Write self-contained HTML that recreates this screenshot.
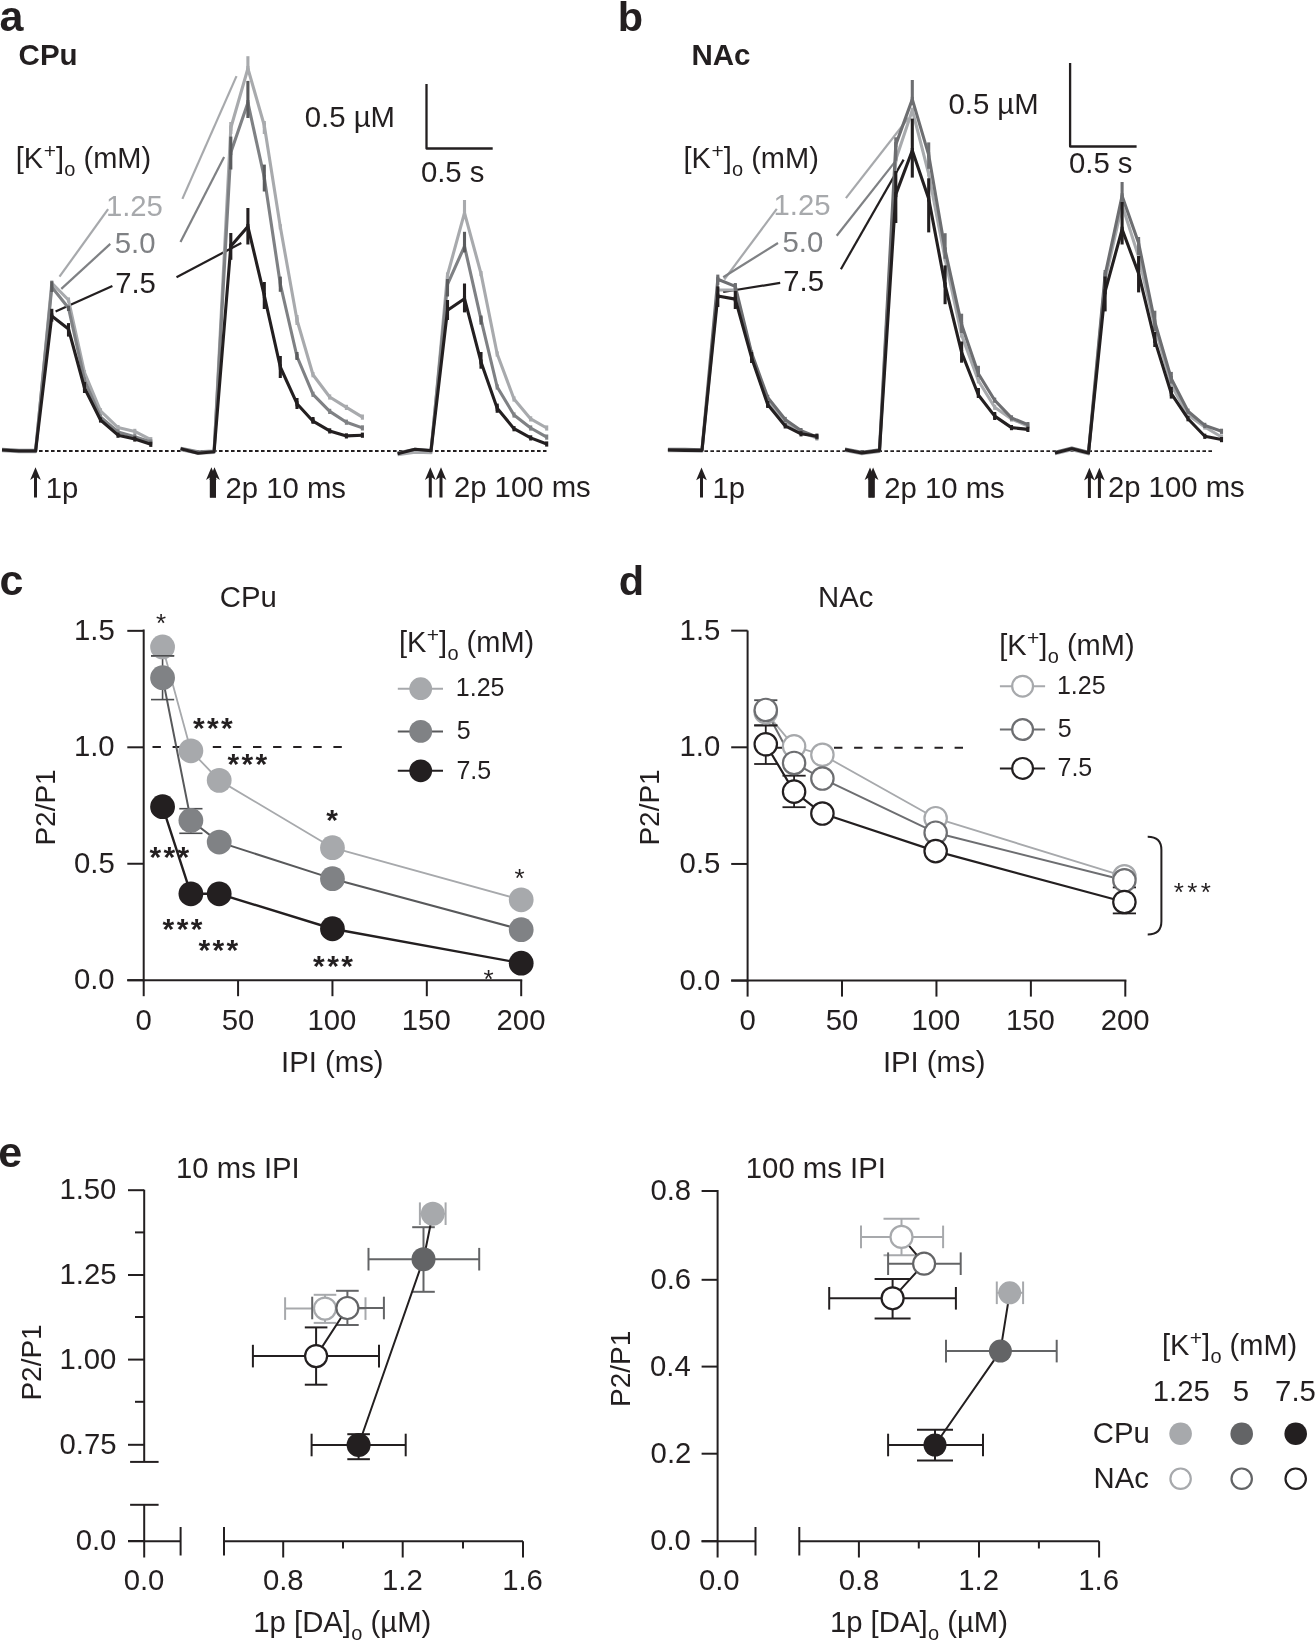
<!DOCTYPE html>
<html><head><meta charset="utf-8"><style>
html,body{margin:0;padding:0;background:#fff;}
body{width:1315px;height:1641px;overflow:hidden;}
svg{display:block;will-change:transform;}
text{font-family:"Liberation Sans",sans-serif;}
</style></head><body>
<svg width="1315" height="1641" viewBox="0 0 1315 1641" stroke-linecap="butt">
<rect width="1315" height="1641" fill="#fff"/>
<text x="-0.4" y="31" font-size="43" font-weight="bold" fill="#231f20" >a</text>
<text x="18.6" y="64.6" font-size="29.5" font-weight="bold" fill="#231f20" >CPu</text>
<text x="15.8" y="167.8" font-size="29" fill="#231f20">[K<tspan font-size="21" dx="0.5" dy="-9.5">+</tspan><tspan dy="9.5">]</tspan><tspan font-size="20" dx="0.3" dy="7.8">o</tspan><tspan dy="-7.8"> (mM)</tspan></text>
<text x="105.9" y="215.5" font-size="29.3" fill="#a7a9ac" >1.25</text>
<text x="114.8" y="253" font-size="29.3" fill="#7f8184" >5.0</text>
<text x="115.2" y="292.5" font-size="29.3" fill="#231f20" >7.5</text>
<line x1="59.5" y1="276.7" x2="108.1" y2="209.2" stroke="#a7a9ac" stroke-width="2.2" />
<line x1="61.3" y1="288.9" x2="110.3" y2="243.9" stroke="#7f8184" stroke-width="2.2" />
<line x1="55.6" y1="311.5" x2="112.4" y2="285.9" stroke="#231f20" stroke-width="2.2" />
<line x1="182.4" y1="198.9" x2="236.5" y2="76.1" stroke="#a7a9ac" stroke-width="2.2" />
<line x1="180.5" y1="242" x2="224.1" y2="156.9" stroke="#7f8184" stroke-width="2.2" />
<line x1="176.5" y1="277.3" x2="241.3" y2="243" stroke="#231f20" stroke-width="2.2" />
<text x="304.8" y="126.5" font-size="29.3" fill="#231f20" >0.5 µM</text>
<text x="420.9" y="182.4" font-size="29.3" fill="#231f20" >0.5 s</text>
<polyline points="426.5,84 426.5,148.5 492.7,148.5" fill="none" stroke="#231f20" stroke-width="2.3" stroke-linejoin="round" />
<line x1="39" y1="451" x2="546.5" y2="451" stroke="#231f20" stroke-width="1.8" stroke-dasharray="3.6 2.4"/>
<polyline points="2,450.8 19,451.8 35.6,451.8 51.8,283 68.5,300 84.5,372.7 100.5,410.8 118,427.6 134.8,431.4 150.8,439.7" fill="none" stroke="#a8aaad" stroke-width="3.1" stroke-linejoin="round" />
<line x1="51.8" y1="280.4" x2="51.8" y2="285.6" stroke="#a8aaad" stroke-width="3.1" />
<line x1="68.5" y1="297.4" x2="68.5" y2="302.6" stroke="#a8aaad" stroke-width="3.1" />
<line x1="84.5" y1="370.1" x2="84.5" y2="375.3" stroke="#a8aaad" stroke-width="3.1" />
<line x1="100.5" y1="408.2" x2="100.5" y2="413.4" stroke="#a8aaad" stroke-width="3.1" />
<line x1="118" y1="425" x2="118" y2="430.2" stroke="#a8aaad" stroke-width="3.1" />
<line x1="134.8" y1="428.8" x2="134.8" y2="434" stroke="#a8aaad" stroke-width="3.1" />
<line x1="150.8" y1="437.1" x2="150.8" y2="442.3" stroke="#a8aaad" stroke-width="3.1" />
<line x1="68.5" y1="298.7" x2="68.5" y2="302" stroke="#a8aaad" stroke-width="3.1" />
<polyline points="2,449.3 19,450.3 35.6,450.3 51.8,287 68.5,308 84.5,380 100.5,416.9 118,432 134.8,436.7 150.8,442" fill="none" stroke="#7f8184" stroke-width="3.1" stroke-linejoin="round" />
<line x1="51.8" y1="284.4" x2="51.8" y2="289.6" stroke="#7f8184" stroke-width="3.1" />
<line x1="68.5" y1="305.4" x2="68.5" y2="310.6" stroke="#7f8184" stroke-width="3.1" />
<line x1="84.5" y1="377.4" x2="84.5" y2="382.6" stroke="#7f8184" stroke-width="3.1" />
<line x1="100.5" y1="414.3" x2="100.5" y2="419.5" stroke="#7f8184" stroke-width="3.1" />
<line x1="118" y1="429.4" x2="118" y2="434.6" stroke="#7f8184" stroke-width="3.1" />
<line x1="134.8" y1="434.1" x2="134.8" y2="439.3" stroke="#7f8184" stroke-width="3.1" />
<line x1="150.8" y1="439.4" x2="150.8" y2="444.6" stroke="#7f8184" stroke-width="3.1" />
<polyline points="2,450 19,451 35.6,451 51.8,316 68.5,329 84.5,388 100.5,420 118,435.2 134.8,439 150.8,444.3" fill="none" stroke="#231f20" stroke-width="3.1" stroke-linejoin="round" />
<line x1="51.8" y1="313.4" x2="51.8" y2="318.6" stroke="#231f20" stroke-width="3.1" />
<line x1="68.5" y1="326.4" x2="68.5" y2="331.6" stroke="#231f20" stroke-width="3.1" />
<line x1="84.5" y1="385.4" x2="84.5" y2="390.6" stroke="#231f20" stroke-width="3.1" />
<line x1="100.5" y1="417.4" x2="100.5" y2="422.6" stroke="#231f20" stroke-width="3.1" />
<line x1="118" y1="432.6" x2="118" y2="437.8" stroke="#231f20" stroke-width="3.1" />
<line x1="134.8" y1="436.4" x2="134.8" y2="441.6" stroke="#231f20" stroke-width="3.1" />
<line x1="150.8" y1="441.7" x2="150.8" y2="446.9" stroke="#231f20" stroke-width="3.1" />
<line x1="51.8" y1="308.8" x2="51.8" y2="321.6" stroke="#231f20" stroke-width="3.1" />
<line x1="68.5" y1="323.1" x2="68.5" y2="336.6" stroke="#231f20" stroke-width="3.1" />
<line x1="84.5" y1="382" x2="84.5" y2="393" stroke="#231f20" stroke-width="3.1" />
<line x1="51.8" y1="281.2" x2="51.8" y2="292" stroke="#5b5c5e" stroke-width="3.1" />
<line x1="68.5" y1="306" x2="68.5" y2="311" stroke="#5b5c5e" stroke-width="3.1" />
<path d="M35.5,467.3 L40.85,480 L37,477.6 L37,497.6 L34,497.6 L34,477.6 L30.15,480 Z" fill="#231f20"/>
<text x="45.7" y="497.9" font-size="29.3" fill="#231f20" >1p</text>
<polyline points="180.6,449.8 198.1,453.3 214.1,452.5 230.8,128 247.9,68.5 264.3,125.5 280.3,226.8 297,320 313,374.7 329.7,397 346.4,407.4 362.4,417.1" fill="none" stroke="#a8aaad" stroke-width="3.1" stroke-linejoin="round" />
<line x1="230.8" y1="125.4" x2="230.8" y2="130.6" stroke="#a8aaad" stroke-width="3.1" />
<line x1="247.9" y1="65.9" x2="247.9" y2="71.1" stroke="#a8aaad" stroke-width="3.1" />
<line x1="264.3" y1="122.9" x2="264.3" y2="128.1" stroke="#a8aaad" stroke-width="3.1" />
<line x1="280.3" y1="224.2" x2="280.3" y2="229.4" stroke="#a8aaad" stroke-width="3.1" />
<line x1="297" y1="317.4" x2="297" y2="322.6" stroke="#a8aaad" stroke-width="3.1" />
<line x1="313" y1="372.1" x2="313" y2="377.3" stroke="#a8aaad" stroke-width="3.1" />
<line x1="329.7" y1="394.4" x2="329.7" y2="399.6" stroke="#a8aaad" stroke-width="3.1" />
<line x1="346.4" y1="404.8" x2="346.4" y2="410" stroke="#a8aaad" stroke-width="3.1" />
<line x1="362.4" y1="414.5" x2="362.4" y2="419.7" stroke="#a8aaad" stroke-width="3.1" />
<line x1="230.8" y1="122" x2="230.8" y2="134" stroke="#a8aaad" stroke-width="3.1" />
<line x1="247.9" y1="56.2" x2="247.9" y2="70" stroke="#a8aaad" stroke-width="3.1" />
<line x1="264.3" y1="121" x2="264.3" y2="134" stroke="#a8aaad" stroke-width="3.1" />
<line x1="297" y1="315" x2="297" y2="325" stroke="#a8aaad" stroke-width="3.1" />
<polyline points="180.6,448.3 198.1,451.8 214.1,451 230.8,152.4 247.9,102.7 264.3,177.5 280.3,284 297,356.5 313,394.3 329.7,411.4 346.4,422.2 362.4,427.9" fill="none" stroke="#7f8184" stroke-width="3.1" stroke-linejoin="round" />
<line x1="230.8" y1="149.8" x2="230.8" y2="155" stroke="#7f8184" stroke-width="3.1" />
<line x1="247.9" y1="100.1" x2="247.9" y2="105.3" stroke="#7f8184" stroke-width="3.1" />
<line x1="264.3" y1="174.9" x2="264.3" y2="180.1" stroke="#7f8184" stroke-width="3.1" />
<line x1="280.3" y1="281.4" x2="280.3" y2="286.6" stroke="#7f8184" stroke-width="3.1" />
<line x1="297" y1="353.9" x2="297" y2="359.1" stroke="#7f8184" stroke-width="3.1" />
<line x1="313" y1="391.7" x2="313" y2="396.9" stroke="#7f8184" stroke-width="3.1" />
<line x1="329.7" y1="408.8" x2="329.7" y2="414" stroke="#7f8184" stroke-width="3.1" />
<line x1="346.4" y1="419.6" x2="346.4" y2="424.8" stroke="#7f8184" stroke-width="3.1" />
<line x1="362.4" y1="425.3" x2="362.4" y2="430.5" stroke="#7f8184" stroke-width="3.1" />
<line x1="230.8" y1="136.6" x2="230.8" y2="169.5" stroke="#5b5c5e" stroke-width="3.1" />
<line x1="247.9" y1="80.9" x2="247.9" y2="118" stroke="#5b5c5e" stroke-width="3.1" />
<line x1="264.3" y1="164.6" x2="264.3" y2="191.5" stroke="#5b5c5e" stroke-width="3.1" />
<line x1="280.3" y1="276.6" x2="280.3" y2="291.8" stroke="#5b5c5e" stroke-width="3.1" />
<line x1="297" y1="352" x2="297" y2="360" stroke="#5b5c5e" stroke-width="3.1" />
<polyline points="180.6,448.7 198.1,453.2 214.1,451.7 230.8,246.3 247.9,226.5 264.3,295.6 280.3,367 297,403.7 313,421.2 329.7,430.9 346.4,435.9 362.4,435.2" fill="none" stroke="#231f20" stroke-width="3.1" stroke-linejoin="round" />
<line x1="230.8" y1="243.7" x2="230.8" y2="248.9" stroke="#231f20" stroke-width="3.1" />
<line x1="247.9" y1="223.9" x2="247.9" y2="229.1" stroke="#231f20" stroke-width="3.1" />
<line x1="264.3" y1="293" x2="264.3" y2="298.2" stroke="#231f20" stroke-width="3.1" />
<line x1="280.3" y1="364.4" x2="280.3" y2="369.6" stroke="#231f20" stroke-width="3.1" />
<line x1="297" y1="401.1" x2="297" y2="406.3" stroke="#231f20" stroke-width="3.1" />
<line x1="313" y1="418.6" x2="313" y2="423.8" stroke="#231f20" stroke-width="3.1" />
<line x1="329.7" y1="428.3" x2="329.7" y2="433.5" stroke="#231f20" stroke-width="3.1" />
<line x1="346.4" y1="433.3" x2="346.4" y2="438.5" stroke="#231f20" stroke-width="3.1" />
<line x1="362.4" y1="432.6" x2="362.4" y2="437.8" stroke="#231f20" stroke-width="3.1" />
<line x1="230.8" y1="233" x2="230.8" y2="259.8" stroke="#231f20" stroke-width="3.1" />
<line x1="247.9" y1="208" x2="247.9" y2="244.5" stroke="#231f20" stroke-width="3.1" />
<line x1="264.3" y1="282" x2="264.3" y2="309" stroke="#231f20" stroke-width="3.1" />
<line x1="280.3" y1="356" x2="280.3" y2="378" stroke="#231f20" stroke-width="3.1" />
<line x1="297" y1="398" x2="297" y2="409" stroke="#231f20" stroke-width="3.1" />
<line x1="313" y1="417" x2="313" y2="423" stroke="#231f20" stroke-width="3.1" />
<path d="M211.4,467.3 L216.75,480 L212.9,477.6 L212.9,497.6 L209.9,497.6 L209.9,477.6 L206.05,480 Z" fill="#231f20"/>
<path d="M214.5,467.3 L219.85,480 L216,477.6 L216,497.6 L213,497.6 L213,477.6 L209.15,480 Z" fill="#231f20"/>
<rect x="209.9" y="478" width="6.1" height="19.6" fill="#231f20"/>
<text x="225.5" y="498" font-size="29.3" fill="#231f20" >2p 10 ms</text>
<polyline points="397.6,454.6 415,452.3 431,452.8 447.5,275 464.5,212.8 481,273.6 497.2,354 514,399 530.7,418.9 546.7,428" fill="none" stroke="#a8aaad" stroke-width="3.1" stroke-linejoin="round" />
<line x1="447.5" y1="272.4" x2="447.5" y2="277.6" stroke="#a8aaad" stroke-width="3.1" />
<line x1="464.5" y1="210.2" x2="464.5" y2="215.4" stroke="#a8aaad" stroke-width="3.1" />
<line x1="481" y1="271" x2="481" y2="276.2" stroke="#a8aaad" stroke-width="3.1" />
<line x1="497.2" y1="351.4" x2="497.2" y2="356.6" stroke="#a8aaad" stroke-width="3.1" />
<line x1="514" y1="396.4" x2="514" y2="401.6" stroke="#a8aaad" stroke-width="3.1" />
<line x1="530.7" y1="416.3" x2="530.7" y2="421.5" stroke="#a8aaad" stroke-width="3.1" />
<line x1="546.7" y1="425.4" x2="546.7" y2="430.6" stroke="#a8aaad" stroke-width="3.1" />
<line x1="464.5" y1="200" x2="464.5" y2="213" stroke="#a8aaad" stroke-width="3.1" />
<polyline points="397.6,453.1 415,449.3 431,450.3 447.5,284.3 464.5,246.3 481,319.3 497.2,387 514,415 530.7,428 546.7,437.1" fill="none" stroke="#7f8184" stroke-width="3.1" stroke-linejoin="round" />
<line x1="447.5" y1="281.7" x2="447.5" y2="286.9" stroke="#7f8184" stroke-width="3.1" />
<line x1="464.5" y1="243.7" x2="464.5" y2="248.9" stroke="#7f8184" stroke-width="3.1" />
<line x1="481" y1="316.7" x2="481" y2="321.9" stroke="#7f8184" stroke-width="3.1" />
<line x1="497.2" y1="384.4" x2="497.2" y2="389.6" stroke="#7f8184" stroke-width="3.1" />
<line x1="514" y1="412.4" x2="514" y2="417.6" stroke="#7f8184" stroke-width="3.1" />
<line x1="530.7" y1="425.4" x2="530.7" y2="430.6" stroke="#7f8184" stroke-width="3.1" />
<line x1="546.7" y1="434.5" x2="546.7" y2="439.7" stroke="#7f8184" stroke-width="3.1" />
<line x1="447.5" y1="279" x2="447.5" y2="296.5" stroke="#5b5c5e" stroke-width="3.1" />
<line x1="464.5" y1="231.8" x2="464.5" y2="252.4" stroke="#5b5c5e" stroke-width="3.1" />
<line x1="481" y1="315.5" x2="481" y2="324.6" stroke="#5b5c5e" stroke-width="3.1" />
<polyline points="397.6,453.8 415,449.3 431,450.8 447.5,310.2 464.5,298.7 481,361.9 497.2,408.2 514,428.7 530.7,437.9 546.7,444" fill="none" stroke="#231f20" stroke-width="3.1" stroke-linejoin="round" />
<line x1="447.5" y1="307.6" x2="447.5" y2="312.8" stroke="#231f20" stroke-width="3.1" />
<line x1="464.5" y1="296.1" x2="464.5" y2="301.3" stroke="#231f20" stroke-width="3.1" />
<line x1="481" y1="359.3" x2="481" y2="364.5" stroke="#231f20" stroke-width="3.1" />
<line x1="497.2" y1="405.6" x2="497.2" y2="410.8" stroke="#231f20" stroke-width="3.1" />
<line x1="514" y1="426.1" x2="514" y2="431.3" stroke="#231f20" stroke-width="3.1" />
<line x1="530.7" y1="435.3" x2="530.7" y2="440.5" stroke="#231f20" stroke-width="3.1" />
<line x1="546.7" y1="441.4" x2="546.7" y2="446.6" stroke="#231f20" stroke-width="3.1" />
<line x1="447.5" y1="300" x2="447.5" y2="320" stroke="#231f20" stroke-width="3.1" />
<line x1="464.5" y1="283.5" x2="464.5" y2="312.4" stroke="#231f20" stroke-width="3.1" />
<line x1="481" y1="352" x2="481" y2="368.7" stroke="#231f20" stroke-width="3.1" />
<line x1="497.2" y1="403.6" x2="497.2" y2="412.8" stroke="#231f20" stroke-width="3.1" />
<path d="M430.3,467.3 L435.65,480 L431.8,477.6 L431.8,497.4 L428.8,497.4 L428.8,477.6 L424.95,480 Z" fill="#231f20"/>
<path d="M441,467.3 L446.35,480 L442.5,477.6 L442.5,497.4 L439.5,497.4 L439.5,477.6 L435.65,480 Z" fill="#231f20"/>
<text x="453.9" y="497.2" font-size="29.3" fill="#231f20" >2p 100 ms</text>
<text x="617.8" y="30.8" font-size="41.5" font-weight="bold" fill="#231f20" >b</text>
<text x="691.5" y="65" font-size="29.5" font-weight="bold" fill="#231f20" >NAc</text>
<text x="683.5" y="167.7" font-size="29" fill="#231f20">[K<tspan font-size="21" dx="0.5" dy="-9.5">+</tspan><tspan dy="9.5">]</tspan><tspan font-size="20" dx="0.3" dy="7.8">o</tspan><tspan dy="-7.8"> (mM)</tspan></text>
<text x="773.5" y="214.5" font-size="29.3" fill="#a7a9ac" >1.25</text>
<text x="782.5" y="252" font-size="29.3" fill="#7f8184" >5.0</text>
<text x="783.3" y="290.9" font-size="29.3" fill="#231f20" >7.5</text>
<line x1="776.8" y1="208.8" x2="724.3" y2="279.5" stroke="#a7a9ac" stroke-width="2.2" />
<line x1="778" y1="243" x2="723.2" y2="277.2" stroke="#7f8184" stroke-width="2.2" />
<line x1="780.2" y1="282.9" x2="723.2" y2="292" stroke="#231f20" stroke-width="2.2" />
<line x1="845.9" y1="198.1" x2="908.6" y2="117.8" stroke="#a7a9ac" stroke-width="2.2" />
<line x1="836.7" y1="235.7" x2="896.1" y2="160.4" stroke="#7f8184" stroke-width="2.2" />
<line x1="840.9" y1="269.2" x2="903.6" y2="159.6" stroke="#231f20" stroke-width="2.2" />
<text x="948.5" y="114.4" font-size="29.3" fill="#231f20" >0.5 µM</text>
<text x="1069" y="173.1" font-size="29.3" fill="#231f20" >0.5 s</text>
<polyline points="1070.1,63.1 1070.1,146.5 1136.6,146.5" fill="none" stroke="#231f20" stroke-width="2.3" stroke-linejoin="round" />
<line x1="704.4" y1="451.2" x2="1212.3" y2="451.2" stroke="#231f20" stroke-width="1.8" stroke-dasharray="3.6 2.4"/>
<polyline points="667.9,450.8 685,450.8 702,451.2 717.8,290 735.3,290 751.6,355 767.7,400 785.2,422 801,432 816.9,438" fill="none" stroke="#a8aaad" stroke-width="3.1" stroke-linejoin="round" />
<line x1="717.8" y1="287.4" x2="717.8" y2="292.6" stroke="#a8aaad" stroke-width="3.1" />
<line x1="735.3" y1="287.4" x2="735.3" y2="292.6" stroke="#a8aaad" stroke-width="3.1" />
<line x1="751.6" y1="352.4" x2="751.6" y2="357.6" stroke="#a8aaad" stroke-width="3.1" />
<line x1="767.7" y1="397.4" x2="767.7" y2="402.6" stroke="#a8aaad" stroke-width="3.1" />
<line x1="785.2" y1="419.4" x2="785.2" y2="424.6" stroke="#a8aaad" stroke-width="3.1" />
<line x1="801" y1="429.4" x2="801" y2="434.6" stroke="#a8aaad" stroke-width="3.1" />
<line x1="816.9" y1="435.4" x2="816.9" y2="440.6" stroke="#a8aaad" stroke-width="3.1" />
<polyline points="667.9,449.3 685,449.3 702,449.7 717.8,279.3 735.3,286.4 751.6,353 767.7,397.4 785.2,419.5 801,430.6 816.9,437" fill="none" stroke="#6d6e71" stroke-width="3.1" stroke-linejoin="round" />
<line x1="717.8" y1="276.7" x2="717.8" y2="281.9" stroke="#6d6e71" stroke-width="3.1" />
<line x1="735.3" y1="283.8" x2="735.3" y2="289" stroke="#6d6e71" stroke-width="3.1" />
<line x1="751.6" y1="350.4" x2="751.6" y2="355.6" stroke="#6d6e71" stroke-width="3.1" />
<line x1="767.7" y1="394.8" x2="767.7" y2="400" stroke="#6d6e71" stroke-width="3.1" />
<line x1="785.2" y1="416.9" x2="785.2" y2="422.1" stroke="#6d6e71" stroke-width="3.1" />
<line x1="801" y1="428" x2="801" y2="433.2" stroke="#6d6e71" stroke-width="3.1" />
<line x1="816.9" y1="434.4" x2="816.9" y2="439.6" stroke="#6d6e71" stroke-width="3.1" />
<line x1="717.8" y1="274.6" x2="717.8" y2="284.9" stroke="#6d6e71" stroke-width="3.1" />
<line x1="735.3" y1="283" x2="735.3" y2="291" stroke="#6d6e71" stroke-width="3.1" />
<polyline points="667.9,450 685,450.4 702,450.4 717.8,296 735.3,299.1 751.6,357.7 767.7,404.5 785.2,425.9 801,433.8 816.9,436.2" fill="none" stroke="#231f20" stroke-width="3.1" stroke-linejoin="round" />
<line x1="717.8" y1="293.4" x2="717.8" y2="298.6" stroke="#231f20" stroke-width="3.1" />
<line x1="735.3" y1="296.5" x2="735.3" y2="301.7" stroke="#231f20" stroke-width="3.1" />
<line x1="751.6" y1="355.1" x2="751.6" y2="360.3" stroke="#231f20" stroke-width="3.1" />
<line x1="767.7" y1="401.9" x2="767.7" y2="407.1" stroke="#231f20" stroke-width="3.1" />
<line x1="785.2" y1="423.3" x2="785.2" y2="428.5" stroke="#231f20" stroke-width="3.1" />
<line x1="801" y1="431.2" x2="801" y2="436.4" stroke="#231f20" stroke-width="3.1" />
<line x1="816.9" y1="433.6" x2="816.9" y2="438.8" stroke="#231f20" stroke-width="3.1" />
<line x1="717.8" y1="286.4" x2="717.8" y2="307" stroke="#231f20" stroke-width="3.1" />
<line x1="735.3" y1="291" x2="735.3" y2="309" stroke="#231f20" stroke-width="3.1" />
<line x1="751.6" y1="352" x2="751.6" y2="363" stroke="#231f20" stroke-width="3.1" />
<line x1="767.7" y1="401" x2="767.7" y2="408" stroke="#231f20" stroke-width="3.1" />
<path d="M701.5,467.6 L706.85,480.3 L703,477.9 L703,497.6 L700,497.6 L700,477.9 L696.15,480.3 Z" fill="#231f20"/>
<text x="712.5" y="498" font-size="29.3" fill="#231f20" >1p</text>
<polyline points="845,450.5 861.8,453.7 879.5,451.4 895.8,159.6 912.3,110.2 928.7,173.9 945.1,258.8 961.6,334.9 978.4,380.8 994.7,407.3 1011.5,419 1027.9,426" fill="none" stroke="#a8aaad" stroke-width="3.1" stroke-linejoin="round" />
<line x1="895.8" y1="157" x2="895.8" y2="162.2" stroke="#a8aaad" stroke-width="3.1" />
<line x1="912.3" y1="107.6" x2="912.3" y2="112.8" stroke="#a8aaad" stroke-width="3.1" />
<line x1="928.7" y1="171.3" x2="928.7" y2="176.5" stroke="#a8aaad" stroke-width="3.1" />
<line x1="945.1" y1="256.2" x2="945.1" y2="261.4" stroke="#a8aaad" stroke-width="3.1" />
<line x1="961.6" y1="332.3" x2="961.6" y2="337.5" stroke="#a8aaad" stroke-width="3.1" />
<line x1="978.4" y1="378.2" x2="978.4" y2="383.4" stroke="#a8aaad" stroke-width="3.1" />
<line x1="994.7" y1="404.7" x2="994.7" y2="409.9" stroke="#a8aaad" stroke-width="3.1" />
<line x1="1011.5" y1="416.4" x2="1011.5" y2="421.6" stroke="#a8aaad" stroke-width="3.1" />
<line x1="1027.9" y1="423.4" x2="1027.9" y2="428.6" stroke="#a8aaad" stroke-width="3.1" />
<polyline points="845,449 861.8,452.2 879.5,449.9 895.8,144.6 912.3,99.4 928.7,154.9 945.1,250 961.6,324.6 978.4,373.7 994.7,400.2 1011.5,417.9 1027.9,424.6" fill="none" stroke="#6d6e71" stroke-width="3.1" stroke-linejoin="round" />
<line x1="895.8" y1="142" x2="895.8" y2="147.2" stroke="#6d6e71" stroke-width="3.1" />
<line x1="912.3" y1="96.8" x2="912.3" y2="102" stroke="#6d6e71" stroke-width="3.1" />
<line x1="928.7" y1="152.3" x2="928.7" y2="157.5" stroke="#6d6e71" stroke-width="3.1" />
<line x1="945.1" y1="247.4" x2="945.1" y2="252.6" stroke="#6d6e71" stroke-width="3.1" />
<line x1="961.6" y1="322" x2="961.6" y2="327.2" stroke="#6d6e71" stroke-width="3.1" />
<line x1="978.4" y1="371.1" x2="978.4" y2="376.3" stroke="#6d6e71" stroke-width="3.1" />
<line x1="994.7" y1="397.6" x2="994.7" y2="402.8" stroke="#6d6e71" stroke-width="3.1" />
<line x1="1011.5" y1="415.3" x2="1011.5" y2="420.5" stroke="#6d6e71" stroke-width="3.1" />
<line x1="1027.9" y1="422" x2="1027.9" y2="427.2" stroke="#6d6e71" stroke-width="3.1" />
<line x1="895.8" y1="137.3" x2="895.8" y2="160.7" stroke="#6d6e71" stroke-width="3.1" />
<line x1="912.3" y1="80" x2="912.3" y2="105" stroke="#6d6e71" stroke-width="3.1" />
<line x1="928.7" y1="142.4" x2="928.7" y2="168.8" stroke="#6d6e71" stroke-width="3.1" />
<line x1="945.1" y1="233.2" x2="945.1" y2="258.8" stroke="#6d6e71" stroke-width="3.1" />
<line x1="961.6" y1="313.7" x2="961.6" y2="333" stroke="#6d6e71" stroke-width="3.1" />
<line x1="978.4" y1="365.8" x2="978.4" y2="377" stroke="#6d6e71" stroke-width="3.1" />
<polyline points="845,449.7 861.8,452.9 879.5,450.6 895.8,194.4 912.3,150.5 928.7,198.8 945.1,285.1 961.6,352.4 978.4,395 994.7,416.1 1011.5,427.6 1027.9,429.4" fill="none" stroke="#231f20" stroke-width="3.1" stroke-linejoin="round" />
<line x1="895.8" y1="191.8" x2="895.8" y2="197" stroke="#231f20" stroke-width="3.1" />
<line x1="912.3" y1="147.9" x2="912.3" y2="153.1" stroke="#231f20" stroke-width="3.1" />
<line x1="928.7" y1="196.2" x2="928.7" y2="201.4" stroke="#231f20" stroke-width="3.1" />
<line x1="945.1" y1="282.5" x2="945.1" y2="287.7" stroke="#231f20" stroke-width="3.1" />
<line x1="961.6" y1="349.8" x2="961.6" y2="355" stroke="#231f20" stroke-width="3.1" />
<line x1="978.4" y1="392.4" x2="978.4" y2="397.6" stroke="#231f20" stroke-width="3.1" />
<line x1="994.7" y1="413.5" x2="994.7" y2="418.7" stroke="#231f20" stroke-width="3.1" />
<line x1="1011.5" y1="425" x2="1011.5" y2="430.2" stroke="#231f20" stroke-width="3.1" />
<line x1="1027.9" y1="426.8" x2="1027.9" y2="432" stroke="#231f20" stroke-width="3.1" />
<line x1="895.8" y1="171" x2="895.8" y2="223" stroke="#231f20" stroke-width="3.1" />
<line x1="912.3" y1="118.6" x2="912.3" y2="177.6" stroke="#231f20" stroke-width="3.1" />
<line x1="928.7" y1="178.3" x2="928.7" y2="232.4" stroke="#231f20" stroke-width="3.1" />
<line x1="945.1" y1="265.4" x2="945.1" y2="304.2" stroke="#231f20" stroke-width="3.1" />
<line x1="961.6" y1="341.5" x2="961.6" y2="362.7" stroke="#231f20" stroke-width="3.1" />
<line x1="978.4" y1="388" x2="978.4" y2="398" stroke="#231f20" stroke-width="3.1" />
<line x1="994.7" y1="412" x2="994.7" y2="420" stroke="#231f20" stroke-width="3.1" />
<path d="M870,467.4 L875.35,480.1 L871.5,477.7 L871.5,497.6 L868.5,497.6 L868.5,477.7 L864.65,480.1 Z" fill="#231f20"/>
<path d="M873.1,467.4 L878.45,480.1 L874.6,477.7 L874.6,497.6 L871.6,497.6 L871.6,477.7 L867.75,480.1 Z" fill="#231f20"/>
<rect x="868.5" y="478" width="6.1" height="19.6" fill="#231f20"/>
<text x="884.2" y="498.3" font-size="29.3" fill="#231f20" >2p 10 ms</text>
<polyline points="1055,453.8 1071.8,449.8 1088.5,453.8 1105.1,280 1122.1,205 1138.6,256.7 1154.8,326.6 1171.3,385 1188,415 1204.8,427 1221.5,437" fill="none" stroke="#a8aaad" stroke-width="3.1" stroke-linejoin="round" />
<line x1="1105.1" y1="277.4" x2="1105.1" y2="282.6" stroke="#a8aaad" stroke-width="3.1" />
<line x1="1122.1" y1="202.4" x2="1122.1" y2="207.6" stroke="#a8aaad" stroke-width="3.1" />
<line x1="1138.6" y1="254.1" x2="1138.6" y2="259.3" stroke="#a8aaad" stroke-width="3.1" />
<line x1="1154.8" y1="324" x2="1154.8" y2="329.2" stroke="#a8aaad" stroke-width="3.1" />
<line x1="1171.3" y1="382.4" x2="1171.3" y2="387.6" stroke="#a8aaad" stroke-width="3.1" />
<line x1="1188" y1="412.4" x2="1188" y2="417.6" stroke="#a8aaad" stroke-width="3.1" />
<line x1="1204.8" y1="424.4" x2="1204.8" y2="429.6" stroke="#a8aaad" stroke-width="3.1" />
<line x1="1221.5" y1="434.4" x2="1221.5" y2="439.6" stroke="#a8aaad" stroke-width="3.1" />
<polyline points="1055,452.3 1071.8,448.1 1088.5,452.3 1105.1,275 1122.1,195.9 1138.6,243 1154.8,322 1171.3,378.6 1188,411.2 1204.8,425.4 1221.5,431.3" fill="none" stroke="#6d6e71" stroke-width="3.1" stroke-linejoin="round" />
<line x1="1105.1" y1="272.4" x2="1105.1" y2="277.6" stroke="#6d6e71" stroke-width="3.1" />
<line x1="1122.1" y1="193.3" x2="1122.1" y2="198.5" stroke="#6d6e71" stroke-width="3.1" />
<line x1="1138.6" y1="240.4" x2="1138.6" y2="245.6" stroke="#6d6e71" stroke-width="3.1" />
<line x1="1154.8" y1="319.4" x2="1154.8" y2="324.6" stroke="#6d6e71" stroke-width="3.1" />
<line x1="1171.3" y1="376" x2="1171.3" y2="381.2" stroke="#6d6e71" stroke-width="3.1" />
<line x1="1188" y1="408.6" x2="1188" y2="413.8" stroke="#6d6e71" stroke-width="3.1" />
<line x1="1204.8" y1="422.8" x2="1204.8" y2="428" stroke="#6d6e71" stroke-width="3.1" />
<line x1="1221.5" y1="428.7" x2="1221.5" y2="433.9" stroke="#6d6e71" stroke-width="3.1" />
<line x1="1105.1" y1="270" x2="1105.1" y2="285" stroke="#6d6e71" stroke-width="3.1" />
<line x1="1122.1" y1="182" x2="1122.1" y2="202.7" stroke="#6d6e71" stroke-width="3.1" />
<line x1="1138.6" y1="237" x2="1138.6" y2="255" stroke="#6d6e71" stroke-width="3.1" />
<line x1="1154.8" y1="310.7" x2="1154.8" y2="331" stroke="#6d6e71" stroke-width="3.1" />
<line x1="1171.3" y1="371.9" x2="1171.3" y2="383.6" stroke="#6d6e71" stroke-width="3.1" />
<polyline points="1055,453 1071.8,448.8 1088.5,453 1105.1,291.7 1122.1,229.3 1138.6,273.4 1154.8,340.3 1171.3,393.6 1188,418.7 1204.8,436.3 1221.5,439.6" fill="none" stroke="#231f20" stroke-width="3.1" stroke-linejoin="round" />
<line x1="1105.1" y1="289.1" x2="1105.1" y2="294.3" stroke="#231f20" stroke-width="3.1" />
<line x1="1122.1" y1="226.7" x2="1122.1" y2="231.9" stroke="#231f20" stroke-width="3.1" />
<line x1="1138.6" y1="270.8" x2="1138.6" y2="276" stroke="#231f20" stroke-width="3.1" />
<line x1="1154.8" y1="337.7" x2="1154.8" y2="342.9" stroke="#231f20" stroke-width="3.1" />
<line x1="1171.3" y1="391" x2="1171.3" y2="396.2" stroke="#231f20" stroke-width="3.1" />
<line x1="1188" y1="416.1" x2="1188" y2="421.3" stroke="#231f20" stroke-width="3.1" />
<line x1="1204.8" y1="433.7" x2="1204.8" y2="438.9" stroke="#231f20" stroke-width="3.1" />
<line x1="1221.5" y1="437" x2="1221.5" y2="442.2" stroke="#231f20" stroke-width="3.1" />
<line x1="1105.1" y1="276.5" x2="1105.1" y2="311.4" stroke="#231f20" stroke-width="3.1" />
<line x1="1122.1" y1="202" x2="1122.1" y2="244.5" stroke="#231f20" stroke-width="3.1" />
<line x1="1138.6" y1="256" x2="1138.6" y2="292.4" stroke="#231f20" stroke-width="3.1" />
<line x1="1154.8" y1="332" x2="1154.8" y2="347" stroke="#231f20" stroke-width="3.1" />
<line x1="1171.3" y1="386.9" x2="1171.3" y2="398.6" stroke="#231f20" stroke-width="3.1" />
<path d="M1089.4,467.8 L1094.75,480.5 L1090.9,478.1 L1090.9,498 L1087.9,498 L1087.9,478.1 L1084.05,480.5 Z" fill="#231f20"/>
<path d="M1099.4,467.8 L1104.75,480.5 L1100.9,478.1 L1100.9,498 L1097.9,498 L1097.9,478.1 L1094.05,480.5 Z" fill="#231f20"/>
<text x="1107.9" y="497.3" font-size="29.3" fill="#231f20" >2p 100 ms</text>
<text x="-0.6" y="595.4" font-size="43" font-weight="bold" fill="#231f20" >c</text>
<text x="219.8" y="606.8" font-size="29.3" fill="#231f20" >CPu</text>
<line x1="143.7" y1="629.6" x2="143.7" y2="981.2" stroke="#231f20" stroke-width="2" />
<line x1="127.3" y1="980.2" x2="522.2" y2="980.2" stroke="#231f20" stroke-width="2" />
<line x1="127.3" y1="630.85" x2="143.7" y2="630.85" stroke="#231f20" stroke-width="2" />
<text x="74" y="639.85" font-size="29.3" fill="#231f20" >1.5</text>
<line x1="127.3" y1="747.3" x2="143.7" y2="747.3" stroke="#231f20" stroke-width="2" />
<text x="73.9" y="756.3" font-size="29.3" fill="#231f20" >1.0</text>
<line x1="127.3" y1="863.75" x2="143.7" y2="863.75" stroke="#231f20" stroke-width="2" />
<text x="74" y="872.75" font-size="29.3" fill="#231f20" >0.5</text>
<line x1="127.3" y1="980.2" x2="143.7" y2="980.2" stroke="#231f20" stroke-width="2" />
<text x="73.9" y="989.2" font-size="29.3" fill="#231f20" >0.0</text>
<line x1="143.7" y1="980.2" x2="143.7" y2="996.2" stroke="#231f20" stroke-width="2" />
<text x="135.55" y="1029.8" font-size="29.3" fill="#231f20" >0</text>
<line x1="238.07" y1="980.2" x2="238.07" y2="996.2" stroke="#231f20" stroke-width="2" />
<text x="221.72" y="1029.8" font-size="29.3" fill="#231f20" >50</text>
<line x1="332.45" y1="980.2" x2="332.45" y2="996.2" stroke="#231f20" stroke-width="2" />
<text x="307.45" y="1029.8" font-size="29.3" fill="#231f20" >100</text>
<line x1="426.82" y1="980.2" x2="426.82" y2="996.2" stroke="#231f20" stroke-width="2" />
<text x="401.82" y="1029.8" font-size="29.3" fill="#231f20" >150</text>
<line x1="521.2" y1="980.2" x2="521.2" y2="996.2" stroke="#231f20" stroke-width="2" />
<text x="496.55" y="1029.8" font-size="29.3" fill="#231f20" >200</text>
<text x="281.1" y="1071.9" font-size="29.3" fill="#231f20" >IPI (ms)</text>
<text transform="translate(54.8,807) rotate(-90)" x="-38.6" y="0" font-size="28" fill="#231f20">P2/P1</text>
<line x1="152.5" y1="747.1" x2="345" y2="747.1" stroke="#231f20" stroke-width="2" stroke-dasharray="8.4 11.7"/>
<polyline points="162.57,646.92 190.89,750.79 219.2,780.37 332.45,847.68 521.2,899.85" fill="none" stroke="#a7a9ac" stroke-width="1.8" stroke-linejoin="round" />
<polyline points="162.57,677.66 190.89,820.43 219.2,842.09 332.45,878.66 521.2,929.66" fill="none" stroke="#58595b" stroke-width="2" stroke-linejoin="round" />
<polyline points="162.57,806.69 190.89,893.79 219.2,893.79 332.45,928.73 521.2,963.2" fill="none" stroke="#231f20" stroke-width="2.4" stroke-linejoin="round" />
<line x1="162.57" y1="655.8" x2="162.57" y2="699.6" stroke="#4d4e50" stroke-width="1.6" />
<line x1="150.97" y1="655.8" x2="174.17" y2="655.8" stroke="#4d4e50" stroke-width="1.6" />
<line x1="150.97" y1="699.6" x2="174.17" y2="699.6" stroke="#4d4e50" stroke-width="1.6" />
<line x1="190.89" y1="808.7" x2="190.89" y2="833.3" stroke="#4d4e50" stroke-width="1.6" />
<line x1="179.29" y1="808.7" x2="202.49" y2="808.7" stroke="#4d4e50" stroke-width="1.6" />
<line x1="179.29" y1="833.3" x2="202.49" y2="833.3" stroke="#4d4e50" stroke-width="1.6" />
<circle cx="162.57" cy="646.92" r="12.4" fill="#a7a9ac" stroke="none" stroke-width="0"/>
<circle cx="190.89" cy="750.79" r="12.4" fill="#a7a9ac" stroke="none" stroke-width="0"/>
<circle cx="219.2" cy="780.37" r="12.4" fill="#a7a9ac" stroke="none" stroke-width="0"/>
<circle cx="332.45" cy="847.68" r="12.4" fill="#a7a9ac" stroke="none" stroke-width="0"/>
<circle cx="521.2" cy="899.85" r="12.4" fill="#a7a9ac" stroke="none" stroke-width="0"/>
<circle cx="162.57" cy="677.66" r="12.4" fill="#808285" stroke="none" stroke-width="0"/>
<circle cx="190.89" cy="820.43" r="12.4" fill="#808285" stroke="none" stroke-width="0"/>
<circle cx="219.2" cy="842.09" r="12.4" fill="#808285" stroke="none" stroke-width="0"/>
<circle cx="332.45" cy="878.66" r="12.4" fill="#808285" stroke="none" stroke-width="0"/>
<circle cx="521.2" cy="929.66" r="12.4" fill="#808285" stroke="none" stroke-width="0"/>
<circle cx="162.57" cy="806.69" r="12.4" fill="#231f20" stroke="none" stroke-width="0"/>
<circle cx="190.89" cy="893.79" r="12.4" fill="#231f20" stroke="none" stroke-width="0"/>
<circle cx="219.2" cy="893.79" r="12.4" fill="#231f20" stroke="none" stroke-width="0"/>
<circle cx="332.45" cy="928.73" r="12.4" fill="#231f20" stroke="none" stroke-width="0"/>
<circle cx="521.2" cy="963.2" r="12.4" fill="#231f20" stroke="none" stroke-width="0"/>
<line x1="150.97" y1="655.8" x2="174.17" y2="655.8" stroke="#4d4e50" stroke-width="1.6" />
<text x="398.9" y="651.9" font-size="29" fill="#231f20">[K<tspan font-size="21" dx="0.5" dy="-9.5">+</tspan><tspan dy="9.5">]</tspan><tspan font-size="20" dx="0.3" dy="7.8">o</tspan><tspan dy="-7.8"> (mM)</tspan></text>
<line x1="397.8" y1="688.7" x2="443" y2="688.7" stroke="#a7a9ac" stroke-width="2" />
<circle cx="420.7" cy="688.7" r="11.4" fill="#a7a9ac" stroke="none" stroke-width="0"/>
<text x="455.8" y="696.4" font-size="25" fill="#231f20" >1.25</text>
<line x1="397.8" y1="731.4" x2="443" y2="731.4" stroke="#58595b" stroke-width="2" />
<circle cx="420.7" cy="731.4" r="11.4" fill="#808285" stroke="none" stroke-width="0"/>
<text x="456.7" y="739.1" font-size="25" fill="#231f20" >5</text>
<line x1="397.8" y1="770.8" x2="443" y2="770.8" stroke="#231f20" stroke-width="2" />
<circle cx="420.7" cy="770.8" r="11.4" fill="#231f20" stroke="none" stroke-width="0"/>
<text x="456.4" y="778.5" font-size="25" fill="#231f20" >7.5</text>
<text x="156.05" y="632.15" font-size="26" fill="#231f20" >*</text>
<text x="192.9" y="737.6" font-size="30" font-weight="bold" fill="#231f20" >*</text>
<text x="206.95" y="737.6" font-size="30" font-weight="bold" fill="#231f20" >*</text>
<text x="221" y="737.6" font-size="30" font-weight="bold" fill="#231f20" >*</text>
<text x="227.4" y="773.6" font-size="30" font-weight="bold" fill="#231f20" >*</text>
<text x="241.45" y="773.6" font-size="30" font-weight="bold" fill="#231f20" >*</text>
<text x="255.5" y="773.6" font-size="30" font-weight="bold" fill="#231f20" >*</text>
<text x="149.5" y="867.1" font-size="30" font-weight="bold" fill="#231f20" >*</text>
<text x="163.55" y="867.1" font-size="30" font-weight="bold" fill="#231f20" >*</text>
<text x="177.6" y="867.1" font-size="30" font-weight="bold" fill="#231f20" >*</text>
<text x="162.6" y="938.8" font-size="30" font-weight="bold" fill="#231f20" >*</text>
<text x="176.65" y="938.8" font-size="30" font-weight="bold" fill="#231f20" >*</text>
<text x="190.7" y="938.8" font-size="30" font-weight="bold" fill="#231f20" >*</text>
<text x="198.5" y="959.6" font-size="30" font-weight="bold" fill="#231f20" >*</text>
<text x="212.55" y="959.6" font-size="30" font-weight="bold" fill="#231f20" >*</text>
<text x="226.6" y="959.6" font-size="30" font-weight="bold" fill="#231f20" >*</text>
<text x="326.25" y="829.8" font-size="30" font-weight="bold" fill="#231f20" >*</text>
<text x="514.55" y="886.65" font-size="26" fill="#231f20" >*</text>
<text x="313.1" y="976.4" font-size="30" font-weight="bold" fill="#231f20" >*</text>
<text x="327.15" y="976.4" font-size="30" font-weight="bold" fill="#231f20" >*</text>
<text x="341.2" y="976.4" font-size="30" font-weight="bold" fill="#231f20" >*</text>
<text x="483.45" y="988.35" font-size="26" fill="#231f20" >*</text>
<text x="618.8" y="595" font-size="41.5" font-weight="bold" fill="#231f20" >d</text>
<text x="818" y="607.1" font-size="29.3" fill="#231f20" >NAc</text>
<line x1="747.6" y1="630.6" x2="747.6" y2="981.6" stroke="#231f20" stroke-width="2" />
<line x1="731.2" y1="980.6" x2="1126.4" y2="980.6" stroke="#231f20" stroke-width="2" />
<line x1="731.2" y1="630.65" x2="747.6" y2="630.65" stroke="#231f20" stroke-width="2" />
<text x="679.6" y="639.65" font-size="29.3" fill="#231f20" >1.5</text>
<line x1="731.2" y1="747.3" x2="747.6" y2="747.3" stroke="#231f20" stroke-width="2" />
<text x="679.5" y="756.3" font-size="29.3" fill="#231f20" >1.0</text>
<line x1="731.2" y1="863.95" x2="747.6" y2="863.95" stroke="#231f20" stroke-width="2" />
<text x="679.6" y="872.95" font-size="29.3" fill="#231f20" >0.5</text>
<line x1="731.2" y1="980.6" x2="747.6" y2="980.6" stroke="#231f20" stroke-width="2" />
<text x="679.5" y="989.6" font-size="29.3" fill="#231f20" >0.0</text>
<line x1="747.6" y1="980.6" x2="747.6" y2="996.6" stroke="#231f20" stroke-width="2" />
<text x="739.45" y="1029.8" font-size="29.3" fill="#231f20" >0</text>
<line x1="842.02" y1="980.6" x2="842.02" y2="996.6" stroke="#231f20" stroke-width="2" />
<text x="825.67" y="1029.8" font-size="29.3" fill="#231f20" >50</text>
<line x1="936.45" y1="980.6" x2="936.45" y2="996.6" stroke="#231f20" stroke-width="2" />
<text x="911.45" y="1029.8" font-size="29.3" fill="#231f20" >100</text>
<line x1="1030.88" y1="980.6" x2="1030.88" y2="996.6" stroke="#231f20" stroke-width="2" />
<text x="1005.88" y="1029.8" font-size="29.3" fill="#231f20" >150</text>
<line x1="1125.3" y1="980.6" x2="1125.3" y2="996.6" stroke="#231f20" stroke-width="2" />
<text x="1100.65" y="1029.8" font-size="29.3" fill="#231f20" >200</text>
<text x="882.9" y="1071.8" font-size="29.3" fill="#231f20" >IPI (ms)</text>
<text transform="translate(658.9,807) rotate(-90)" x="-38.6" y="0" font-size="28" fill="#231f20">P2/P1</text>
<line x1="773.7" y1="747.8" x2="963" y2="747.8" stroke="#231f20" stroke-width="2" stroke-dasharray="8.4 11.7"/>
<polyline points="765.77,712.31 794.09,746.37 822.4,754.77 935.65,818.22 1124.4,876.31" fill="none" stroke="#a7a9ac" stroke-width="1.8" stroke-linejoin="round" />
<polyline points="765.77,709.97 794.09,762.93 822.4,778.56 935.65,832.69 1124.4,880.28" fill="none" stroke="#6d6e71" stroke-width="2" stroke-linejoin="round" />
<polyline points="765.77,744.27 794.09,791.63 822.4,813.56 935.65,851.12 1124.4,901.98" fill="none" stroke="#231f20" stroke-width="2.2" stroke-linejoin="round" />
<line x1="765.77" y1="700.2" x2="765.77" y2="725.1" stroke="#4d4e50" stroke-width="1.8" />
<line x1="754.17" y1="700.2" x2="777.38" y2="700.2" stroke="#4d4e50" stroke-width="1.8" />
<line x1="754.17" y1="725.1" x2="777.38" y2="725.1" stroke="#4d4e50" stroke-width="1.8" />
<line x1="765.77" y1="725.6" x2="765.77" y2="764" stroke="#231f20" stroke-width="1.8" />
<line x1="754.17" y1="725.6" x2="777.38" y2="725.6" stroke="#231f20" stroke-width="1.8" />
<line x1="754.17" y1="764" x2="777.38" y2="764" stroke="#231f20" stroke-width="1.8" />
<line x1="794.09" y1="775.7" x2="794.09" y2="807.2" stroke="#231f20" stroke-width="1.8" />
<line x1="782.49" y1="775.7" x2="805.69" y2="775.7" stroke="#231f20" stroke-width="1.8" />
<line x1="782.49" y1="807.2" x2="805.69" y2="807.2" stroke="#231f20" stroke-width="1.8" />
<line x1="1124.4" y1="887.4" x2="1124.4" y2="913.4" stroke="#231f20" stroke-width="1.8" />
<line x1="1112.8" y1="887.4" x2="1136" y2="887.4" stroke="#231f20" stroke-width="1.8" />
<line x1="1112.8" y1="913.4" x2="1136" y2="913.4" stroke="#231f20" stroke-width="1.8" />
<circle cx="765.77" cy="712.31" r="11.2" fill="#fff" stroke="#a7a9ac" stroke-width="2.2"/>
<circle cx="794.09" cy="746.37" r="11.2" fill="#fff" stroke="#a7a9ac" stroke-width="2.2"/>
<circle cx="822.4" cy="754.77" r="11.2" fill="#fff" stroke="#a7a9ac" stroke-width="2.2"/>
<circle cx="935.65" cy="818.22" r="11.2" fill="#fff" stroke="#a7a9ac" stroke-width="2.2"/>
<circle cx="1124.4" cy="876.31" r="11.2" fill="#fff" stroke="#a7a9ac" stroke-width="2.2"/>
<circle cx="765.77" cy="709.97" r="11.2" fill="#fff" stroke="#6d6e71" stroke-width="2.2"/>
<circle cx="794.09" cy="762.93" r="11.2" fill="#fff" stroke="#6d6e71" stroke-width="2.2"/>
<circle cx="822.4" cy="778.56" r="11.2" fill="#fff" stroke="#6d6e71" stroke-width="2.2"/>
<circle cx="935.65" cy="832.69" r="11.2" fill="#fff" stroke="#6d6e71" stroke-width="2.2"/>
<circle cx="1124.4" cy="880.28" r="11.2" fill="#fff" stroke="#6d6e71" stroke-width="2.2"/>
<circle cx="765.77" cy="744.27" r="11.2" fill="#fff" stroke="#231f20" stroke-width="2.2"/>
<circle cx="794.09" cy="791.63" r="11.2" fill="#fff" stroke="#231f20" stroke-width="2.2"/>
<circle cx="822.4" cy="813.56" r="11.2" fill="#fff" stroke="#231f20" stroke-width="2.2"/>
<circle cx="935.65" cy="851.12" r="11.2" fill="#fff" stroke="#231f20" stroke-width="2.2"/>
<circle cx="1124.4" cy="901.98" r="11.2" fill="#fff" stroke="#231f20" stroke-width="2.2"/>
<text x="999.2" y="654.7" font-size="29" fill="#231f20">[K<tspan font-size="21" dx="0.5" dy="-9.5">+</tspan><tspan dy="9.5">]</tspan><tspan font-size="20" dx="0.3" dy="7.8">o</tspan><tspan dy="-7.8"> (mM)</tspan></text>
<line x1="999.9" y1="686.2" x2="1045.1" y2="686.2" stroke="#a7a9ac" stroke-width="2" />
<circle cx="1022.6" cy="686.2" r="10.4" fill="#fff" stroke="#a7a9ac" stroke-width="2.2"/>
<text x="1056.9" y="693.9" font-size="25" fill="#231f20" >1.25</text>
<line x1="999.9" y1="729.5" x2="1045.1" y2="729.5" stroke="#6d6e71" stroke-width="2" />
<circle cx="1022.6" cy="729.5" r="10.4" fill="#fff" stroke="#6d6e71" stroke-width="2.2"/>
<text x="1057.8" y="737.2" font-size="25" fill="#231f20" >5</text>
<line x1="999.9" y1="768.4" x2="1045.1" y2="768.4" stroke="#231f20" stroke-width="2" />
<circle cx="1022.6" cy="768.4" r="10.4" fill="#fff" stroke="#231f20" stroke-width="2.2"/>
<text x="1057.5" y="776.1" font-size="25" fill="#231f20" >7.5</text>
<path d="M1147.7,836.8 Q1161.4,836.8 1161.4,850 L1161.4,921.3 Q1161.4,934.5 1147.7,934.5" fill="none" stroke="#231f20" stroke-width="2" />
<text x="1173.65" y="901.35" font-size="26" fill="#231f20" >*</text>
<text x="1187.15" y="901.35" font-size="26" fill="#231f20" >*</text>
<text x="1200.65" y="901.35" font-size="26" fill="#231f20" >*</text>
<text x="-1.7" y="1167.1" font-size="43" font-weight="bold" fill="#231f20" >e</text>
<text x="176" y="1178.2" font-size="29.3" fill="#231f20" >10 ms IPI</text>
<line x1="144.2" y1="1189.7" x2="144.2" y2="1461.9" stroke="#231f20" stroke-width="2" />
<line x1="130.1" y1="1461.9" x2="158.6" y2="1461.9" stroke="#231f20" stroke-width="2" />
<line x1="130.1" y1="1504.8" x2="158.6" y2="1504.8" stroke="#231f20" stroke-width="2" />
<line x1="144.2" y1="1504.8" x2="144.2" y2="1557.5" stroke="#231f20" stroke-width="2" />
<line x1="128" y1="1190.2" x2="144.2" y2="1190.2" stroke="#231f20" stroke-width="2" />
<text x="59.4" y="1199.2" font-size="29.3" fill="#231f20" >1.50</text>
<line x1="128" y1="1275" x2="144.2" y2="1275" stroke="#231f20" stroke-width="2" />
<text x="59.5" y="1284" font-size="29.3" fill="#231f20" >1.25</text>
<line x1="128" y1="1359.6" x2="144.2" y2="1359.6" stroke="#231f20" stroke-width="2" />
<text x="59.4" y="1368.6" font-size="29.3" fill="#231f20" >1.00</text>
<line x1="128" y1="1444.8" x2="144.2" y2="1444.8" stroke="#231f20" stroke-width="2" />
<text x="59.5" y="1453.8" font-size="29.3" fill="#231f20" >0.75</text>
<line x1="128" y1="1541" x2="144.2" y2="1541" stroke="#231f20" stroke-width="2" />
<text x="75.7" y="1550" font-size="29.3" fill="#231f20" >0.0</text>
<line x1="135" y1="1232.4" x2="144.2" y2="1232.4" stroke="#231f20" stroke-width="2" />
<line x1="135" y1="1317" x2="144.2" y2="1317" stroke="#231f20" stroke-width="2" />
<line x1="135" y1="1401.8" x2="144.2" y2="1401.8" stroke="#231f20" stroke-width="2" />
<line x1="128" y1="1541.2" x2="180.6" y2="1541.2" stroke="#231f20" stroke-width="2" />
<line x1="180.6" y1="1527" x2="180.6" y2="1555.5" stroke="#231f20" stroke-width="2" />
<line x1="224" y1="1541.2" x2="523" y2="1541.2" stroke="#231f20" stroke-width="2" />
<line x1="224" y1="1527" x2="224" y2="1555.5" stroke="#231f20" stroke-width="2" />
<line x1="283.2" y1="1541.2" x2="283.2" y2="1557.5" stroke="#231f20" stroke-width="2" />
<line x1="402.7" y1="1541.2" x2="402.7" y2="1557.5" stroke="#231f20" stroke-width="2" />
<line x1="523" y1="1541.2" x2="523" y2="1557.5" stroke="#231f20" stroke-width="2" />
<line x1="343" y1="1541.2" x2="343" y2="1548.5" stroke="#231f20" stroke-width="2" />
<line x1="463" y1="1541.2" x2="463" y2="1548.5" stroke="#231f20" stroke-width="2" />
<text x="123.65" y="1589.8" font-size="29.3" fill="#231f20" >0.0</text>
<text x="262.95" y="1589.8" font-size="29.3" fill="#231f20" >0.8</text>
<text x="382" y="1589.8" font-size="29.3" fill="#231f20" >1.2</text>
<text x="502.2" y="1589.8" font-size="29.3" fill="#231f20" >1.6</text>
<text x="253.3" y="1632" font-size="29.3" fill="#231f20">1p [DA]<tspan font-size="20" dx="0.3" dy="7.8">o</tspan><tspan dy="-7.8"> (µM)</tspan></text>
<text transform="translate(41.4,1362) rotate(-90)" x="-38.6" y="0" font-size="28" fill="#231f20">P2/P1</text>
<line x1="285.1" y1="1308.6" x2="365.5" y2="1308.6" stroke="#a7a9ac" stroke-width="2" />
<line x1="285.1" y1="1297.3" x2="285.1" y2="1319.9" stroke="#a7a9ac" stroke-width="2" />
<line x1="365.5" y1="1297.3" x2="365.5" y2="1319.9" stroke="#a7a9ac" stroke-width="2" />
<line x1="325" y1="1294.8" x2="325" y2="1322.9" stroke="#a7a9ac" stroke-width="2" />
<line x1="313.7" y1="1294.8" x2="336.3" y2="1294.8" stroke="#a7a9ac" stroke-width="2" />
<line x1="313.7" y1="1322.9" x2="336.3" y2="1322.9" stroke="#a7a9ac" stroke-width="2" />
<line x1="312.2" y1="1308" x2="383.9" y2="1308" stroke="#636466" stroke-width="2" />
<line x1="312.2" y1="1296.7" x2="312.2" y2="1319.3" stroke="#636466" stroke-width="2" />
<line x1="383.9" y1="1296.7" x2="383.9" y2="1319.3" stroke="#636466" stroke-width="2" />
<line x1="347.4" y1="1290.8" x2="347.4" y2="1325" stroke="#636466" stroke-width="2" />
<line x1="336.1" y1="1290.8" x2="358.7" y2="1290.8" stroke="#636466" stroke-width="2" />
<line x1="336.1" y1="1325" x2="358.7" y2="1325" stroke="#636466" stroke-width="2" />
<line x1="252.9" y1="1356.1" x2="379" y2="1356.1" stroke="#231f20" stroke-width="2" />
<line x1="252.9" y1="1344.8" x2="252.9" y2="1367.4" stroke="#231f20" stroke-width="2" />
<line x1="379" y1="1344.8" x2="379" y2="1367.4" stroke="#231f20" stroke-width="2" />
<line x1="316.1" y1="1327.4" x2="316.1" y2="1384.7" stroke="#231f20" stroke-width="2" />
<line x1="304.8" y1="1327.4" x2="327.4" y2="1327.4" stroke="#231f20" stroke-width="2" />
<line x1="304.8" y1="1384.7" x2="327.4" y2="1384.7" stroke="#231f20" stroke-width="2" />
<polyline points="316.1,1356.1 347.4,1308 325,1308.6" fill="none" stroke="#231f20" stroke-width="2" stroke-linejoin="round" />
<circle cx="325" cy="1308.6" r="11" fill="#fff" stroke="#a7a9ac" stroke-width="2.2"/>
<circle cx="347.4" cy="1308" r="11" fill="#fff" stroke="#636466" stroke-width="2.2"/>
<circle cx="316.1" cy="1356.1" r="11" fill="#fff" stroke="#231f20" stroke-width="2.2"/>
<line x1="419.9" y1="1213.7" x2="445.6" y2="1213.7" stroke="#a7a9ac" stroke-width="2" />
<line x1="419.9" y1="1202.4" x2="419.9" y2="1225" stroke="#a7a9ac" stroke-width="2" />
<line x1="445.6" y1="1202.4" x2="445.6" y2="1225" stroke="#a7a9ac" stroke-width="2" />
<line x1="368.5" y1="1259.2" x2="479.2" y2="1259.2" stroke="#636466" stroke-width="2" />
<line x1="368.5" y1="1247.9" x2="368.5" y2="1270.5" stroke="#636466" stroke-width="2" />
<line x1="479.2" y1="1247.9" x2="479.2" y2="1270.5" stroke="#636466" stroke-width="2" />
<line x1="423.5" y1="1227.2" x2="423.5" y2="1291.8" stroke="#636466" stroke-width="2" />
<line x1="412.2" y1="1227.2" x2="434.8" y2="1227.2" stroke="#636466" stroke-width="2" />
<line x1="412.2" y1="1291.8" x2="434.8" y2="1291.8" stroke="#636466" stroke-width="2" />
<line x1="311.6" y1="1445" x2="405.7" y2="1445" stroke="#231f20" stroke-width="2" />
<line x1="311.6" y1="1433.7" x2="311.6" y2="1456.3" stroke="#231f20" stroke-width="2" />
<line x1="405.7" y1="1433.7" x2="405.7" y2="1456.3" stroke="#231f20" stroke-width="2" />
<line x1="358.6" y1="1434.2" x2="358.6" y2="1459.2" stroke="#231f20" stroke-width="2" />
<line x1="347.3" y1="1434.2" x2="369.9" y2="1434.2" stroke="#231f20" stroke-width="2" />
<line x1="347.3" y1="1459.2" x2="369.9" y2="1459.2" stroke="#231f20" stroke-width="2" />
<polyline points="432.8,1213.7 423.5,1259.2 358.6,1445" fill="none" stroke="#231f20" stroke-width="2" stroke-linejoin="round" />
<circle cx="432.8" cy="1213.7" r="12" fill="#a7a9ac" stroke="none" stroke-width="0"/>
<circle cx="423.5" cy="1259.2" r="12" fill="#636466" stroke="none" stroke-width="0"/>
<circle cx="358.6" cy="1445" r="12" fill="#231f20" stroke="none" stroke-width="0"/>
<text x="745.8" y="1178.2" font-size="29.3" fill="#231f20" >100 ms IPI</text>
<line x1="717.6" y1="1190" x2="717.6" y2="1557.5" stroke="#231f20" stroke-width="2" />
<line x1="701.6" y1="1191" x2="717.6" y2="1191" stroke="#231f20" stroke-width="2" />
<text x="650.4" y="1200" font-size="29.3" fill="#231f20" >0.8</text>
<line x1="701.6" y1="1279.8" x2="717.6" y2="1279.8" stroke="#231f20" stroke-width="2" />
<text x="650.4" y="1288.8" font-size="29.3" fill="#231f20" >0.6</text>
<line x1="701.6" y1="1366.6" x2="717.6" y2="1366.6" stroke="#231f20" stroke-width="2" />
<text x="650" y="1375.6" font-size="29.3" fill="#231f20" >0.4</text>
<line x1="701.6" y1="1453.7" x2="717.6" y2="1453.7" stroke="#231f20" stroke-width="2" />
<text x="650.6" y="1462.7" font-size="29.3" fill="#231f20" >0.2</text>
<line x1="701.6" y1="1541.2" x2="717.6" y2="1541.2" stroke="#231f20" stroke-width="2" />
<text x="650.2" y="1550.2" font-size="29.3" fill="#231f20" >0.0</text>
<line x1="701.6" y1="1541.2" x2="755.5" y2="1541.2" stroke="#231f20" stroke-width="2" />
<line x1="755.5" y1="1527" x2="755.5" y2="1555.5" stroke="#231f20" stroke-width="2" />
<line x1="799.3" y1="1541.2" x2="1099.1" y2="1541.2" stroke="#231f20" stroke-width="2" />
<line x1="799.3" y1="1527" x2="799.3" y2="1555.5" stroke="#231f20" stroke-width="2" />
<line x1="858.9" y1="1541.2" x2="858.9" y2="1557.5" stroke="#231f20" stroke-width="2" />
<line x1="979" y1="1541.2" x2="979" y2="1557.5" stroke="#231f20" stroke-width="2" />
<line x1="1099.1" y1="1541.2" x2="1099.1" y2="1557.5" stroke="#231f20" stroke-width="2" />
<line x1="918.8" y1="1541.2" x2="918.8" y2="1548.5" stroke="#231f20" stroke-width="2" />
<line x1="1038.9" y1="1541.2" x2="1038.9" y2="1548.5" stroke="#231f20" stroke-width="2" />
<text x="698.95" y="1589.8" font-size="29.3" fill="#231f20" >0.0</text>
<text x="838.65" y="1589.8" font-size="29.3" fill="#231f20" >0.8</text>
<text x="958.3" y="1589.8" font-size="29.3" fill="#231f20" >1.2</text>
<text x="1078.3" y="1589.8" font-size="29.3" fill="#231f20" >1.6</text>
<text x="829.9" y="1632" font-size="29.3" fill="#231f20">1p [DA]<tspan font-size="20" dx="0.3" dy="7.8">o</tspan><tspan dy="-7.8"> (µM)</tspan></text>
<text transform="translate(630.1,1368.4) rotate(-90)" x="-38.6" y="0" font-size="28" fill="#231f20">P2/P1</text>
<line x1="861" y1="1236.9" x2="943.1" y2="1236.9" stroke="#a7a9ac" stroke-width="2" />
<line x1="861" y1="1225.6" x2="861" y2="1248.2" stroke="#a7a9ac" stroke-width="2" />
<line x1="943.1" y1="1225.6" x2="943.1" y2="1248.2" stroke="#a7a9ac" stroke-width="2" />
<line x1="901.5" y1="1218.7" x2="901.5" y2="1255.2" stroke="#a7a9ac" stroke-width="2" />
<line x1="883.5" y1="1218.7" x2="919.5" y2="1218.7" stroke="#a7a9ac" stroke-width="2" />
<line x1="883.5" y1="1255.2" x2="919.5" y2="1255.2" stroke="#a7a9ac" stroke-width="2" />
<line x1="888.1" y1="1263.7" x2="960.7" y2="1263.7" stroke="#636466" stroke-width="2" />
<line x1="888.1" y1="1252.4" x2="888.1" y2="1275" stroke="#636466" stroke-width="2" />
<line x1="960.7" y1="1252.4" x2="960.7" y2="1275" stroke="#636466" stroke-width="2" />
<line x1="829.2" y1="1298.3" x2="955.9" y2="1298.3" stroke="#231f20" stroke-width="2" />
<line x1="829.2" y1="1287" x2="829.2" y2="1309.6" stroke="#231f20" stroke-width="2" />
<line x1="955.9" y1="1287" x2="955.9" y2="1309.6" stroke="#231f20" stroke-width="2" />
<line x1="892.6" y1="1279" x2="892.6" y2="1318.5" stroke="#231f20" stroke-width="2" />
<line x1="874.6" y1="1279" x2="910.6" y2="1279" stroke="#231f20" stroke-width="2" />
<line x1="874.6" y1="1318.5" x2="910.6" y2="1318.5" stroke="#231f20" stroke-width="2" />
<polyline points="901.5,1236.9 924.1,1263.7 892.6,1298.3" fill="none" stroke="#231f20" stroke-width="2" stroke-linejoin="round" />
<circle cx="901.5" cy="1236.9" r="11" fill="#fff" stroke="#a7a9ac" stroke-width="2.2"/>
<circle cx="924.1" cy="1263.7" r="11" fill="#fff" stroke="#636466" stroke-width="2.2"/>
<circle cx="892.6" cy="1298.3" r="11" fill="#fff" stroke="#231f20" stroke-width="2.2"/>
<line x1="996.8" y1="1292.8" x2="1023.1" y2="1292.8" stroke="#a7a9ac" stroke-width="2" />
<line x1="996.8" y1="1281.5" x2="996.8" y2="1304.1" stroke="#a7a9ac" stroke-width="2" />
<line x1="1023.1" y1="1281.5" x2="1023.1" y2="1304.1" stroke="#a7a9ac" stroke-width="2" />
<line x1="946" y1="1351.1" x2="1056.7" y2="1351.1" stroke="#636466" stroke-width="2" />
<line x1="946" y1="1339.8" x2="946" y2="1362.4" stroke="#636466" stroke-width="2" />
<line x1="1056.7" y1="1339.8" x2="1056.7" y2="1362.4" stroke="#636466" stroke-width="2" />
<line x1="888.1" y1="1445" x2="983" y2="1445" stroke="#231f20" stroke-width="2" />
<line x1="888.1" y1="1433.7" x2="888.1" y2="1456.3" stroke="#231f20" stroke-width="2" />
<line x1="983" y1="1433.7" x2="983" y2="1456.3" stroke="#231f20" stroke-width="2" />
<line x1="935" y1="1429.8" x2="935" y2="1460.5" stroke="#231f20" stroke-width="2" />
<line x1="917" y1="1429.8" x2="953" y2="1429.8" stroke="#231f20" stroke-width="2" />
<line x1="917" y1="1460.5" x2="953" y2="1460.5" stroke="#231f20" stroke-width="2" />
<polyline points="1009.7,1292.8 1000.4,1351.1 935,1445" fill="none" stroke="#231f20" stroke-width="2" stroke-linejoin="round" />
<circle cx="1009.7" cy="1292.8" r="11.5" fill="#a7a9ac" stroke="none" stroke-width="0"/>
<circle cx="1000.4" cy="1351.1" r="11.5" fill="#636466" stroke="none" stroke-width="0"/>
<circle cx="935" cy="1445" r="11.5" fill="#231f20" stroke="none" stroke-width="0"/>
<text x="1161.9" y="1354.8" font-size="29" fill="#231f20">[K<tspan font-size="21" dx="0.5" dy="-9.5">+</tspan><tspan dy="9.5">]</tspan><tspan font-size="20" dx="0.3" dy="7.8">o</tspan><tspan dy="-7.8"> (mM)</tspan></text>
<text x="1152.8" y="1401.3" font-size="29.3" fill="#231f20" >1.25</text>
<text x="1232.8" y="1401.3" font-size="29.3" fill="#231f20" >5</text>
<text x="1275.1" y="1401.3" font-size="29.3" fill="#231f20" >7.5</text>
<text x="1092.8" y="1443.3" font-size="29.3" fill="#231f20" >CPu</text>
<text x="1093.6" y="1488" font-size="29.3" fill="#231f20" >NAc</text>
<circle cx="1180.6" cy="1433.8" r="11.3" fill="#a7a9ac" stroke="none" stroke-width="0"/>
<circle cx="1180.6" cy="1478.7" r="10.2" fill="#fff" stroke="#a7a9ac" stroke-width="2.2"/>
<circle cx="1241.7" cy="1433.8" r="11.3" fill="#636466" stroke="none" stroke-width="0"/>
<circle cx="1241.7" cy="1478.7" r="10.2" fill="#fff" stroke="#636466" stroke-width="2.2"/>
<circle cx="1295.7" cy="1433.8" r="11.3" fill="#231f20" stroke="none" stroke-width="0"/>
<circle cx="1295.7" cy="1478.7" r="10.2" fill="#fff" stroke="#231f20" stroke-width="2.2"/>
</svg>
</body></html>
